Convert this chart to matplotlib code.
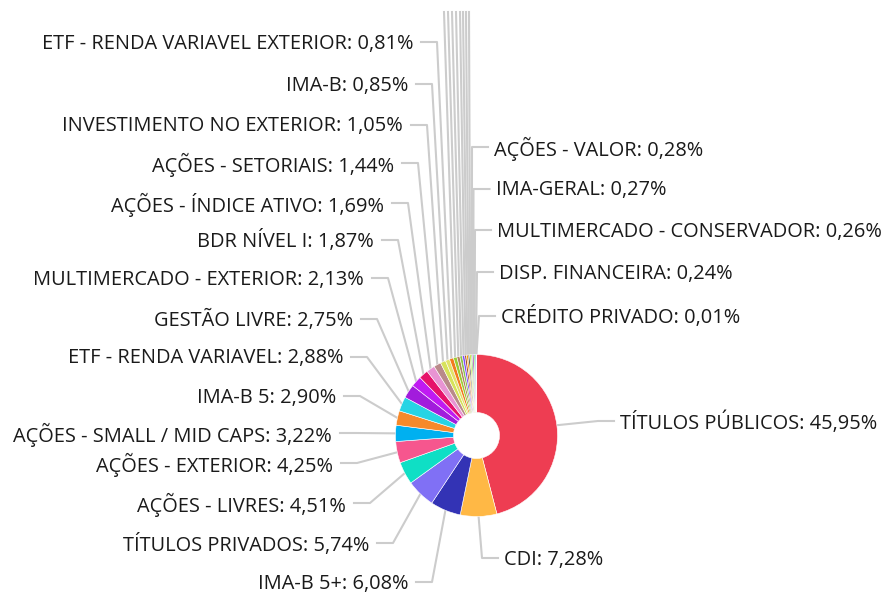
import numpy as np
import matplotlib.pyplot as plt

plt.rcParams['font.family'] = ['Open Sans', 'DejaVu Sans']

# slices in drawing order, clockwise from 12 o'clock
categories = [
    'TÍTULOS PÚBLICOS', 'CDI', 'IMA-B 5+', 'TÍTULOS PRIVADOS', 'AÇÕES - LIVRES',
    'AÇÕES - EXTERIOR', 'AÇÕES - SMALL / MID CAPS', 'IMA-B 5', 'ETF - RENDA VARIAVEL',
    'GESTÃO LIVRE', 'MULTIMERCADO - EXTERIOR', 'BDR NÍVEL I', 'AÇÕES - ÍNDICE ATIVO',
    'AÇÕES - SETORIAIS', 'INVESTIMENTO NO EXTERIOR', 'IMA-B', 'ETF - RENDA VARIAVEL EXTERIOR',
    # these labels fall above the top of the chart and are not visible
    None, None, None, None, None, None, None, None,
    'AÇÕES - VALOR', 'IMA-GERAL', 'MULTIMERCADO - CONSERVADOR', 'DISP. FINANCEIRA',
    'CRÉDITO PRIVADO',
]
values = [
    45.95, 7.28, 6.08, 5.74, 4.51,
    4.25, 3.22, 2.90, 2.88,
    2.75, 2.13, 1.87, 1.69,
    1.44, 1.05, 0.85, 0.81,
    0.70, 0.58, 0.52, 0.45, 0.38, 0.32, 0.30, 0.29,
    0.28, 0.27, 0.26, 0.24,
    0.01,
]
colors = [
    '#EE3D52', '#FFB845', '#3333B5', '#8070F5', '#0FDFC5',
    '#F6568E', '#00B0F0', '#F6892A', '#26D4E4',
    '#A21CDC', '#C01AF2', '#E6126A', '#E894D3',
    '#B98A8A', '#D7E25A', '#E2E36A', '#F27B1F',
    '#9ACD32', '#B5855E', '#8BC34A', '#7C4DFF', '#A0522D', '#FF9800', '#3A3A3A', '#CDDC39',
    '#6FD05A', '#9C27B0', '#7FFF6A', '#1E88E5',
    '#00BCD4',
]

# label line layout in pixels: elbow x, elbow y, side of the label
layout = [
    (598, 421, 'r'), (482, 558, 'r'), (432, 582, 'l'), (393, 543, 'l'), (370, 503, 'l'),
    (357, 463, 'l'), (356, 433, 'l'), (360, 396, 'l'), (367, 357, 'l'),
    (377, 319, 'l'), (388, 278, 'l'), (398, 240, 'l'), (408, 203, 'l'),
    (418, 163, 'l'), (427, 125, 'l'), (432, 84, 'l'), (437, 42, 'l'),
    (444, 12, None), (448, 12, None), (452, 12, None), (456, 12, None),
    (460, 12, None), (463, 12, None), (466, 12, None), (469, 12, None),
    (472, 147, 'r'), (473.5, 189, 'r'), (475, 230, 'r'), (477, 272, 'r'),
    (479, 316, 'r'),
]

cx, cy, r = 476.5, 435.5, 81
seg = 16
line_col = '#cccccc'

fig = plt.figure(figsize=(8.84, 5.95), dpi=100)
ax = fig.add_axes([0, 0, 1, 1])

wedges, _ = ax.pie(values, colors=colors, startangle=-90, counterclock=True,
                   radius=r, center=(cx, cy),
                   wedgeprops=dict(width=58, edgecolor='white', linewidth=0.4))

for w, name, val, (ex, ey, side) in zip(wedges, categories, values, layout):
    mid = np.deg2rad((w.theta1 + w.theta2) / 2)
    px = cx + r * np.cos(mid)
    py = cy + r * np.sin(mid)
    if side is None:
        ax.plot([px, ex], [py, ey], color=line_col, lw=1.5, zorder=0)
        continue
    if side == 'l':
        hx = ex - seg
        tx = hx - 8
        ha = 'right'
    else:
        hx = ex + seg
        tx = hx + 6
        ha = 'left'
    ax.plot([px, ex, hx], [py, ey, ey], color=line_col, lw=1.5, zorder=0)
    label = name + ': ' + f'{val:.2f}'.replace('.', ',') + '%'
    ax.text(tx, ey + 1.5, label, ha=ha, va='center', fontsize=14.4, color='#1a1a1a')

ax.set_xlim(0, 884)
ax.set_ylim(595, 0)
ax.set_aspect('equal')
ax.axis('off')

fig.savefig('out.png', dpi=100, facecolor='white')
